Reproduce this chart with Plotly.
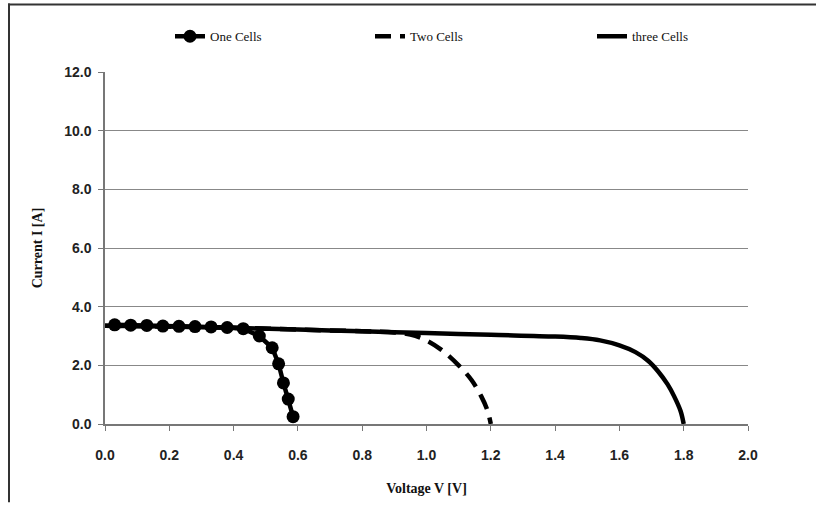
import plotly.graph_objects as go

# ---- data ----
one_v = [0.03, 0.08, 0.13, 0.18, 0.23, 0.28, 0.33, 0.38, 0.43, 0.48, 0.52, 0.54, 0.555, 0.57, 0.585]
one_i = [3.38, 3.37, 3.36, 3.34, 3.33, 3.32, 3.31, 3.29, 3.25, 3.0, 2.6, 2.05, 1.4, 0.85, 0.25]

two_v = [0.0, 0.2, 0.4, 0.6, 0.8, 0.9, 0.95, 1.0, 1.05, 1.1, 1.14, 1.17, 1.19, 1.2]
two_i = [3.35, 3.32, 3.28, 3.22, 3.16, 3.12, 3.05, 2.85, 2.5, 2.0, 1.5, 0.95, 0.45, 0.0]

three_v = [0.0, 0.2, 0.4, 0.6, 0.8, 1.0, 1.2, 1.4, 1.48, 1.54, 1.6, 1.65, 1.69, 1.72, 1.75, 1.77, 1.79, 1.8]
three_i = [3.35, 3.32, 3.28, 3.22, 3.16, 3.1, 3.04, 2.98, 2.93, 2.85, 2.68, 2.45, 2.15, 1.8, 1.35, 0.95, 0.45, 0.0]

x_ticks = [0.0, 0.2, 0.4, 0.6, 0.8, 1.0, 1.2, 1.4, 1.6, 1.8, 2.0]
y_ticks = [0.0, 2.0, 4.0, 6.0, 8.0, 10.0, 12.0]

W, H = 817, 506
ML, MR, MT, MB = 105, 69, 72, 79
PW, PH = W - ML - MR, H - MT - MB

def px(p):
    return (p - ML) / PW

def py(p):
    return (H - MB - p) / PH

fig = go.Figure()
fig.add_trace(go.Scatter(x=one_v, y=one_i, name="One Cells", mode="lines+markers",
                         legend="legend",
                         line=dict(color="black", width=4.5),
                         marker=dict(symbol="circle", size=13, color="black")))
fig.add_trace(go.Scatter(x=two_v, y=two_i, name="Two Cells", mode="lines",
                         legend="legend2",
                         line=dict(color="black", width=4.5, dash="16px,9px", shape="spline")))
fig.add_trace(go.Scatter(x=three_v, y=three_i, name="three Cells", mode="lines",
                         legend="legend3",
                         line=dict(color="black", width=4.5, shape="spline")))

tickfont = dict(family="Liberation Sans", size=14, color="#222", weight="bold")
titlefont = dict(family="Liberation Serif", size=14, color="#111", weight="bold")
legfont = dict(family="Liberation Serif", size=13, color="#111")

def leg(xp):
    return dict(orientation="h", x=px(xp), y=py(36), xanchor="left", yanchor="middle",
                font=legfont, bgcolor="rgba(0,0,0,0)")

fig.update_layout(
    width=W, height=H,
    margin=dict(l=ML, r=MR, t=MT, b=MB),
    paper_bgcolor="white", plot_bgcolor="white",
    showlegend=True,
    legend=leg(170), legend2=leg(370), legend3=leg(592),
    xaxis=dict(range=[0, 2.0], tickvals=x_ticks, tickformat=".1f",
               showgrid=False, zeroline=False,
               showline=True, linecolor="#777", linewidth=1.5,
               ticks="outside", ticklen=5, tickcolor="#777",
               tickfont=tickfont, ticklabelstandoff=12,
               title=dict(text="Voltage V [V]", font=titlefont, standoff=22)),
    yaxis=dict(range=[0, 12.0], tickvals=y_ticks, tickformat=".1f",
               showgrid=True, gridcolor="#888", gridwidth=1.2, zeroline=False,
               showline=True, linecolor="#777", linewidth=1.5,
               ticks="outside", ticklen=5, tickcolor="#777",
               tickfont=tickfont, ticklabelstandoff=4,
               title=dict(text="Current I [A]", font=titlefont, standoff=18)),
    shapes=[
        dict(type="line", xref="paper", yref="paper", x0=px(8), x1=px(W - 1), y0=py(4), y1=py(4),
             line=dict(color="#333", width=2)),
        dict(type="line", xref="paper", yref="paper", x0=px(9), x1=px(9), y0=py(3), y1=py(H),
             line=dict(color="#333", width=2)),
    ],
)

fig.write_html("out.html")
